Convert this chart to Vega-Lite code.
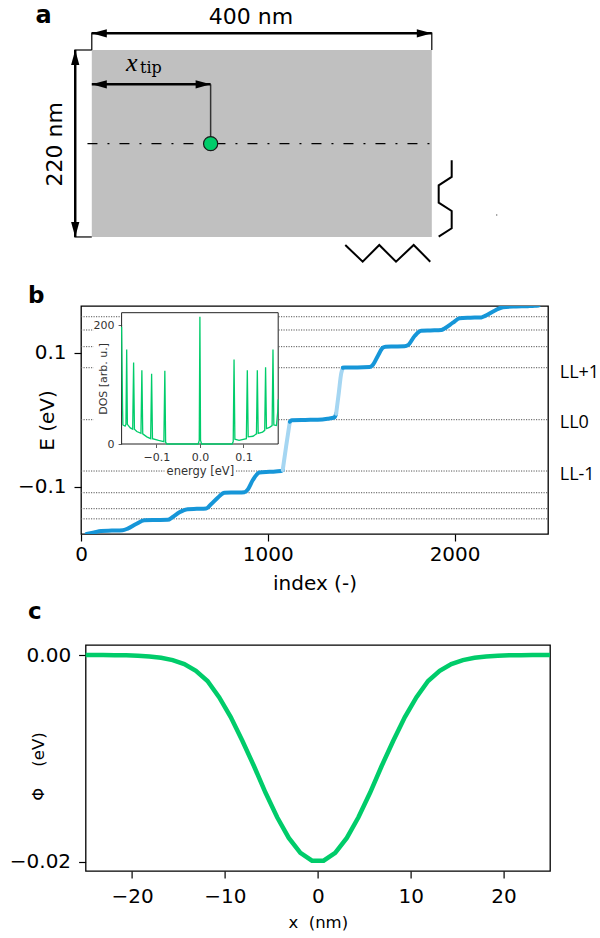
{
  "$schema": "https://vega.github.io/schema/vega-lite/v6.json",
  "padding": {"left": 8, "top": 3, "right": 0, "bottom": 0},
  "background": "white",
  "bounds": "flush",
  "spacing": 111,
  "config": {
    "font": "DejaVu Sans",
    "view": {"stroke": null},
    "axis": {"labelFont": "DejaVu Sans", "titleFont": "DejaVu Sans", "labelColor": "#000", "titleColor": "#000", "tickColor": "#000", "tickWidth": 1.2, "domain": false, "grid": false, "titleFontWeight": "normal", "labelFlush": false, "labelOverlap": false},
    "title": {"font": "DejaVu Sans", "fontWeight": "bold", "fontSize": 23, "anchor": "start", "frame": "group", "color": "#000"}
  },
  "vconcat": [
    {
      "width": 467,
      "height": 144.3,
      "encoding": {
        "x": {"field": "x", "type": "quantitative", "scale": {"domain": [-12.7, 536.7], "nice": false, "zero": false}, "axis": null},
        "y": {"field": "y", "type": "quantitative", "scale": {"domain": [50.2, 220], "nice": false, "zero": false}, "axis": null}
      },
      "layer": [
        {
          "data": {"values": [{"x": 0, "y": 0, "x2": 400, "y2": 220}]},
          "mark": {"type": "rect", "color": "#c0c0c0"},
          "encoding": {"x2": {"field": "x2"}, "y2": {"field": "y2"}}
        },
        {
          "data": {"values": [
            {"g": "e1", "o": 0, "x": 0, "y": 220}, {"g": "e1", "o": 1, "x": 0, "y": 240.5},
            {"g": "e2", "o": 0, "x": 400, "y": 220}, {"g": "e2", "o": 1, "x": 400, "y": 240.5},
            {"g": "e3", "o": 0, "x": -20.5, "y": 220}, {"g": "e3", "o": 1, "x": 0, "y": 220},
            {"g": "e4", "o": 0, "x": -20.5, "y": 0}, {"g": "e4", "o": 1, "x": 0, "y": 0}
          ]},
          "mark": {"type": "line", "color": "#000", "strokeWidth": 1.2},
          "encoding": {"detail": {"field": "g"}, "order": {"field": "o"}}
        },
        {
          "data": {"values": [{"o": 0, "x": 139.8, "y": 179.6}, {"o": 1, "x": 139.8, "y": 109.8}]},
          "mark": {"type": "line", "color": "#333", "strokeWidth": 1.5},
          "encoding": {"order": {"field": "o"}}
        },
        {
          "data": {"values": [{"o": 0, "x": -5.1, "y": 109.8}, {"o": 1, "x": 408, "y": 109.8}]},
          "mark": {"type": "line", "color": "#000", "strokeWidth": 1.2, "strokeDash": [10, 10, 2, 10]},
          "encoding": {"order": {"field": "o"}}
        },
        {
          "data": {"values": [
            {"g": "top", "o": 0, "x": 0, "y": 239.6}, {"g": "top", "o": 1, "x": 400, "y": 239.6},
            {"g": "left", "o": 0, "x": -19.5, "y": 0}, {"g": "left", "o": 1, "x": -19.5, "y": 220},
            {"g": "tip", "o": 0, "x": 0, "y": 179.6}, {"g": "tip", "o": 1, "x": 139.8, "y": 179.6}
          ]},
          "mark": {"type": "line", "color": "#000", "strokeWidth": 2.5},
          "encoding": {"detail": {"field": "g"}, "order": {"field": "o"}}
        },
        {
          "data": {"values": [
            {"g": "v", "o": 0, "x": 423.4, "y": 90.2}, {"g": "v", "o": 1, "x": 423.4, "y": 70.6},
            {"g": "v", "o": 2, "x": 408.1, "y": 60.8}, {"g": "v", "o": 3, "x": 408.1, "y": 40.4},
            {"g": "v", "o": 4, "x": 423.4, "y": 30.6}, {"g": "v", "o": 5, "x": 423.4, "y": 10.2},
            {"g": "v", "o": 6, "x": 408.1, "y": 0.35},
            {"g": "h", "o": 0, "x": 298.2, "y": -9.4}, {"g": "h", "o": 1, "x": 318.7, "y": -29.1},
            {"g": "h", "o": 2, "x": 338.2, "y": -9.4}, {"g": "h", "o": 3, "x": 357.9, "y": -29.1},
            {"g": "h", "o": 4, "x": 378.7, "y": -9.4}, {"g": "h", "o": 5, "x": 398.2, "y": -29.1}
          ]},
          "mark": {"type": "line", "color": "#000", "strokeWidth": 2, "strokeJoin": "miter"},
          "encoding": {"detail": {"field": "g"}, "order": {"field": "o"}}
        },
        {
          "data": {"values": [
            {"dir": "left", "x": 0, "y": 239.6}, {"dir": "right", "x": 400, "y": 239.6},
            {"dir": "up", "x": -19.5, "y": 220}, {"dir": "down", "x": -19.5, "y": 0},
            {"dir": "left", "x": 0, "y": 179.6}, {"dir": "right", "x": 139.8, "y": 179.6}
          ]},
          "mark": {"type": "point", "filled": true, "color": "#000", "opacity": 1, "size": 225, "strokeWidth": 0},
          "encoding": {"shape": {"field": "dir", "type": "nominal", "scale": {"domain": ["left", "right", "up", "down"], "range": ["M0,0L2,-0.55L2,0.55Z", "M0,0L-2,-0.55L-2,0.55Z", "M0,0L-0.55,2L0.55,2Z", "M0,0L-0.55,-2L0.55,-2Z"]}, "legend": null}}
        },
        {
          "data": {"values": [{"x": 139.8, "y": 109.8}]},
          "mark": {"type": "point", "shape": "circle", "filled": true, "fill": "#00cc6a", "stroke": "#1a1a1a", "strokeWidth": 1.2, "size": 200, "opacity": 1}
        },
        {
          "data": {"values": [{"x": 476.4, "y": 25.9}]},
          "mark": {"type": "point", "shape": "circle", "filled": true, "color": "#666", "size": 2, "opacity": 1}
        },
        {
          "data": {"values": [{"x": 187.3, "y": 250.9, "t": "400 nm"}]},
          "mark": {"type": "text", "align": "center", "baseline": "alphabetic", "fontSize": 22, "font": "DejaVu Sans", "color": "#000"},
          "encoding": {"text": {"field": "t"}}
        },
        {
          "data": {"values": [{"x": -34.5, "y": 109.1, "t": "220 nm"}]},
          "mark": {"type": "text", "align": "center", "baseline": "alphabetic", "angle": 270, "fontSize": 22, "font": "DejaVu Sans", "color": "#000"},
          "encoding": {"text": {"field": "t"}}
        },
        {
          "data": {"values": [{"x": -66.1, "y": 252.1, "t": "a"}]},
          "mark": {"type": "text", "align": "left", "baseline": "alphabetic", "fontSize": 24, "fontWeight": "bold", "font": "DejaVu Sans", "color": "#000"},
          "encoding": {"text": {"field": "t"}}
        },
        {
          "data": {"values": [{"x": 40.2, "y": 195.3, "t": "x"}]},
          "mark": {"type": "text", "align": "left", "baseline": "alphabetic", "fontSize": 26, "fontStyle": "italic", "font": "Liberation Serif", "color": "#000"},
          "encoding": {"text": {"field": "t"}}
        },
        {
          "data": {"values": [{"x": 56.7, "y": 193.5, "t": "tip"}]},
          "mark": {"type": "text", "align": "left", "baseline": "alphabetic", "fontSize": 16, "font": "DejaVu Serif", "color": "#000"},
          "encoding": {"text": {"field": "t"}}
        }
      ]
    },
    {
      "width": 467,
      "height": 228,
      "title": {"text": "b", "dx": -53, "dy": 21.5, "offset": 2, "baseline": "alphabetic"},
      "view": {"stroke": "#000", "strokeWidth": 1.3},
      "resolve": {"scale": {"x": "independent", "y": "independent"}},
      "layer": [
        {
          "encoding": {
            "x": {"field": "idx", "type": "quantitative", "scale": {"domain": [0, 2500], "nice": false, "zero": false}, "axis": {"values": [0, 1000, 2000], "format": "d", "labelFontSize": 20, "titleFontSize": 20, "tickSize": 7, "labelPadding": 3, "titlePadding": 9, "title": "index (-)"}},
            "y": {"field": "E", "type": "quantitative", "scale": {"domain": [-0.1706, 0.1697], "nice": false, "zero": false}, "axis": {"values": [-0.1, 0.1], "format": ".1f", "labelFontSize": 20, "titleFontSize": 20, "tickSize": 7, "labelPadding": 8, "title": "E (eV)", "titleX": -27.7, "titleBaseline": "alphabetic"}}
          },
          "layer": [
            {
              "data": {"values": [
                {"lv": 1, "idx": 0, "E": 0.1537}, {"lv": 1, "idx": 2500, "E": 0.1537},
                {"lv": 2, "idx": 0, "E": 0.1339}, {"lv": 2, "idx": 2500, "E": 0.1339},
                {"lv": 3, "idx": 0, "E": 0.109}, {"lv": 3, "idx": 2500, "E": 0.109},
                {"lv": 4, "idx": 0, "E": 0.0776}, {"lv": 4, "idx": 2500, "E": 0.0776},
                {"lv": 5, "idx": 0, "E": 0}, {"lv": 5, "idx": 2500, "E": 0},
                {"lv": 6, "idx": 0, "E": -0.0766}, {"lv": 6, "idx": 2500, "E": -0.0766},
                {"lv": 7, "idx": 0, "E": -0.109}, {"lv": 7, "idx": 2500, "E": -0.109},
                {"lv": 8, "idx": 0, "E": -0.1328}, {"lv": 8, "idx": 2500, "E": -0.1328},
                {"lv": 9, "idx": 0, "E": -0.148}, {"lv": 9, "idx": 2500, "E": -0.148}
              ]},
              "mark": {"type": "line", "color": "#555", "strokeWidth": 1, "strokeDash": [1.2, 1.3]},
              "encoding": {"detail": {"field": "lv"}}
            },
            {
              "data": {"values": [
                {"seg": 1, "kind": "dark", "idx": 30, "E": -0.1706}, {"seg": 1, "kind": "dark", "idx": 70, "E": -0.1682},
                {"seg": 1, "kind": "dark", "idx": 107, "E": -0.166}, {"seg": 1, "kind": "dark", "idx": 165, "E": -0.1655},
                {"seg": 1, "kind": "dark", "idx": 223, "E": -0.165}, {"seg": 1, "kind": "dark", "idx": 250, "E": -0.1625},
                {"seg": 1, "kind": "dark", "idx": 295, "E": -0.1557}, {"seg": 1, "kind": "dark", "idx": 339, "E": -0.1502},
                {"seg": 1, "kind": "dark", "idx": 400, "E": -0.1498}, {"seg": 1, "kind": "dark", "idx": 464, "E": -0.1495},
                {"seg": 1, "kind": "dark", "idx": 491, "E": -0.1452}, {"seg": 1, "kind": "dark", "idx": 527, "E": -0.1383},
                {"seg": 1, "kind": "dark", "idx": 571, "E": -0.1335}, {"seg": 1, "kind": "dark", "idx": 620, "E": -0.133},
                {"seg": 1, "kind": "dark", "idx": 670, "E": -0.1325}, {"seg": 1, "kind": "dark", "idx": 696, "E": -0.1262},
                {"seg": 1, "kind": "dark", "idx": 732, "E": -0.1164}, {"seg": 1, "kind": "dark", "idx": 768, "E": -0.1092},
                {"seg": 1, "kind": "dark", "idx": 820, "E": -0.1087}, {"seg": 1, "kind": "dark", "idx": 875, "E": -0.1082},
                {"seg": 1, "kind": "dark", "idx": 893, "E": -0.104}, {"seg": 1, "kind": "dark", "idx": 920, "E": -0.09},
                {"seg": 1, "kind": "dark", "idx": 955, "E": -0.0788}, {"seg": 1, "kind": "dark", "idx": 1010, "E": -0.0778},
                {"seg": 1, "kind": "dark", "idx": 1071, "E": -0.0766}, {"seg": 1, "kind": "dark", "idx": 1080, "E": -0.075},
                {"seg": 2, "kind": "light", "idx": 1080, "E": -0.075}, {"seg": 2, "kind": "light", "idx": 1098, "E": -0.04},
                {"seg": 2, "kind": "light", "idx": 1118, "E": -0.003},
                {"seg": 3, "kind": "dark", "idx": 1118, "E": -0.003}, {"seg": 3, "kind": "dark", "idx": 1128, "E": -0.0008},
                {"seg": 3, "kind": "dark", "idx": 1200, "E": -0.0003}, {"seg": 3, "kind": "dark", "idx": 1268, "E": 0},
                {"seg": 3, "kind": "dark", "idx": 1320, "E": 0.0015}, {"seg": 3, "kind": "dark", "idx": 1357, "E": 0.0035},
                {"seg": 3, "kind": "dark", "idx": 1366, "E": 0.009},
                {"seg": 4, "kind": "light", "idx": 1366, "E": 0.009}, {"seg": 4, "kind": "light", "idx": 1380, "E": 0.04},
                {"seg": 4, "kind": "light", "idx": 1393, "E": 0.069}, {"seg": 4, "kind": "light", "idx": 1402, "E": 0.0776},
                {"seg": 5, "kind": "dark", "idx": 1402, "E": 0.0776}, {"seg": 5, "kind": "dark", "idx": 1411, "E": 0.078},
                {"seg": 5, "kind": "dark", "idx": 1480, "E": 0.078}, {"seg": 5, "kind": "dark", "idx": 1545, "E": 0.0785},
                {"seg": 5, "kind": "dark", "idx": 1560, "E": 0.081}, {"seg": 5, "kind": "dark", "idx": 1589, "E": 0.0951},
                {"seg": 5, "kind": "dark", "idx": 1616, "E": 0.1075}, {"seg": 5, "kind": "dark", "idx": 1630, "E": 0.109},
                {"seg": 5, "kind": "dark", "idx": 1680, "E": 0.1092}, {"seg": 5, "kind": "dark", "idx": 1732, "E": 0.1095},
                {"seg": 5, "kind": "dark", "idx": 1750, "E": 0.1112}, {"seg": 5, "kind": "dark", "idx": 1786, "E": 0.1249},
                {"seg": 5, "kind": "dark", "idx": 1821, "E": 0.1328}, {"seg": 5, "kind": "dark", "idx": 1870, "E": 0.1333},
                {"seg": 5, "kind": "dark", "idx": 1929, "E": 0.1338}, {"seg": 5, "kind": "dark", "idx": 1946, "E": 0.1362},
                {"seg": 5, "kind": "dark", "idx": 1991, "E": 0.1448}, {"seg": 5, "kind": "dark", "idx": 2027, "E": 0.1515},
                {"seg": 5, "kind": "dark", "idx": 2085, "E": 0.1522}, {"seg": 5, "kind": "dark", "idx": 2143, "E": 0.1527},
                {"seg": 5, "kind": "dark", "idx": 2161, "E": 0.1547}, {"seg": 5, "kind": "dark", "idx": 2214, "E": 0.1627},
                {"seg": 5, "kind": "dark", "idx": 2259, "E": 0.168}, {"seg": 5, "kind": "dark", "idx": 2330, "E": 0.169},
                {"seg": 5, "kind": "dark", "idx": 2393, "E": 0.1695}, {"seg": 5, "kind": "dark", "idx": 2429, "E": 0.17},
                {"seg": 5, "kind": "dark", "idx": 2450, "E": 0.1705}
              ]},
              "mark": {"type": "line", "strokeWidth": 4, "interpolate": "monotone", "clip": true, "strokeCap": "round"},
              "encoding": {
                "detail": {"field": "seg"},
                "color": {"field": "kind", "type": "nominal", "scale": {"domain": ["dark", "light"], "range": ["#1696d8", "#a5d6f2"]}, "legend": null}
              }
            },
            {
              "data": {"values": [
                {"idx": 2563, "E": 0.0616, "t": "LL+1"},
                {"idx": 2563, "E": -0.013, "t": "LL0"},
                {"idx": 2563, "E": -0.09, "t": "LL-1"}
              ]},
              "mark": {"type": "text", "align": "left", "baseline": "alphabetic", "fontSize": 18, "font": "Open Sans", "color": "#000"},
              "encoding": {"text": {"field": "t"}}
            }
          ]
        },
        {
          "encoding": {
            "x": {"field": "e", "type": "quantitative", "scale": {"domain": [-0.18, 0.18], "range": [40.6, 197.2], "nice": false, "zero": false}, "axis": {"orient": "bottom", "offset": -90, "values": [-0.1, 0, 0.1], "format": ".1f", "labelFontSize": 11, "titleFontSize": 11.5, "tickSize": 3.5, "labelPadding": 4, "titlePadding": 3, "title": "energy [eV]", "labelColor": "#333", "titleColor": "#333", "tickColor": "#333", "tickWidth": 0.8, "zindex": 1}},
            "y": {"field": "dos", "type": "quantitative", "scale": {"domain": [0, 220.7], "range": [138, 6.7], "nice": false, "zero": false}, "axis": {"orient": "left", "offset": -40.6, "values": [0, 200], "format": "d", "labelFontSize": 11, "titleFontSize": 11, "tickSize": 3.5, "labelPadding": 4, "title": "DOS [arb. u.]", "titleX": -15.2, "titleBaseline": "alphabetic", "labelColor": "#333", "titleColor": "#333", "tickColor": "#333", "tickWidth": 0.8, "zindex": 1}}
          },
          "layer": [
            {
              "data": {"values": [
                {"e": -0.245, "e2": 0.181, "dos": -8, "dos2": 209},
                {"e": -0.081, "e2": 0.0815, "dos": -8, "dos2": -57}
              ]},
              "mark": {"type": "rect", "fill": "#fff", "strokeWidth": 0},
              "encoding": {"x2": {"field": "e2"}, "y2": {"field": "dos2"}}
            },
            {
              "data": {"values": [{"e": -0.18, "e2": 0.18, "dos": 0, "dos2": 220.7}]},
              "mark": {"type": "rect", "fill": "#fff", "stroke": "#222", "strokeWidth": 1},
              "encoding": {"x2": {"field": "e2"}, "y2": {"field": "dos2"}}
            },
            {
              "data": {"values": [
                {"e": -0.18, "dos": 197}, {"e": -0.1778, "dos": 60}, {"e": -0.177, "dos": 32}, {"e": -0.172, "dos": 30},
                {"e": -0.17, "dos": 33}, {"e": -0.1683, "dos": 159}, {"e": -0.1667, "dos": 33}, {"e": -0.16, "dos": 27},
                {"e": -0.1545, "dos": 25}, {"e": -0.1524, "dos": 137}, {"e": -0.1505, "dos": 25}, {"e": -0.145, "dos": 21},
                {"e": -0.1355, "dos": 18}, {"e": -0.1334, "dos": 124}, {"e": -0.1314, "dos": 17}, {"e": -0.122, "dos": 12},
                {"e": -0.1132, "dos": 9}, {"e": -0.111, "dos": 118}, {"e": -0.109, "dos": 9}, {"e": -0.095, "dos": 6},
                {"e": -0.0828, "dos": 4}, {"e": -0.0806, "dos": 123}, {"e": -0.0788, "dos": 3}, {"e": -0.076, "dos": 0},
                {"e": -0.004, "dos": 0}, {"e": -0.0015, "dos": 6}, {"e": 0, "dos": 214}, {"e": 0.0015, "dos": 6},
                {"e": 0.004, "dos": 0}, {"e": 0.074, "dos": 0}, {"e": 0.0766, "dos": 4}, {"e": 0.0785, "dos": 142},
                {"e": 0.0804, "dos": 8}, {"e": 0.09, "dos": 6}, {"e": 0.1068, "dos": 9}, {"e": 0.109, "dos": 124},
                {"e": 0.111, "dos": 12}, {"e": 0.122, "dos": 13}, {"e": 0.13, "dos": 17}, {"e": 0.132, "dos": 124},
                {"e": 0.134, "dos": 18}, {"e": 0.144, "dos": 20}, {"e": 0.149, "dos": 23}, {"e": 0.151, "dos": 129},
                {"e": 0.153, "dos": 26}, {"e": 0.16, "dos": 28}, {"e": 0.166, "dos": 31}, {"e": 0.168, "dos": 159},
                {"e": 0.17, "dos": 32}, {"e": 0.176, "dos": 31}, {"e": 0.179, "dos": 55}, {"e": 0.18, "dos": 75}
              ]},
              "mark": {"type": "line", "color": "#00cc6a", "strokeWidth": 1.3}
            }
          ]
        }
      ]
    },
    {
      "hconcat": [
        {
          "width": 1,
          "height": 1,
          "data": {"values": [{"v": 0}]},
          "mark": {"type": "point", "opacity": 0}
        },
        {
          "width": 464.4,
          "height": 226,
          "title": {"text": "c", "dx": -57.6, "dy": 22, "offset": 25, "baseline": "alphabetic"},
          "view": {"stroke": "#000", "strokeWidth": 1.3},
          "data": {"values": [
            {"xn": -25, "phi": 0}, {"xn": -24.375, "phi": 0}, {"xn": -23.125, "phi": 0}, {"xn": -21.875, "phi": -0.00001},
            {"xn": -20.625, "phi": -0.00003}, {"xn": -19.375, "phi": -0.00007}, {"xn": -18.125, "phi": -0.00014},
            {"xn": -16.875, "phi": -0.00027}, {"xn": -15.625, "phi": -0.00049}, {"xn": -14.375, "phi": -0.00087},
            {"xn": -13.125, "phi": -0.00153}, {"xn": -11.875, "phi": -0.00251}, {"xn": -10.625, "phi": -0.00408},
            {"xn": -9.375, "phi": -0.006}, {"xn": -8.125, "phi": -0.0083}, {"xn": -6.875, "phi": -0.01074},
            {"xn": -5.625, "phi": -0.01333}, {"xn": -4.375, "phi": -0.0157}, {"xn": -3.125, "phi": -0.0177},
            {"xn": -1.875, "phi": -0.01914}, {"xn": -0.625, "phi": -0.0199}, {"xn": 0.625, "phi": -0.0199},
            {"xn": 1.875, "phi": -0.01914}, {"xn": 3.125, "phi": -0.0177}, {"xn": 4.375, "phi": -0.0157},
            {"xn": 5.625, "phi": -0.01333}, {"xn": 6.875, "phi": -0.01074}, {"xn": 8.125, "phi": -0.0083},
            {"xn": 9.375, "phi": -0.006}, {"xn": 10.625, "phi": -0.00408}, {"xn": 11.875, "phi": -0.00251},
            {"xn": 13.125, "phi": -0.00153}, {"xn": 14.375, "phi": -0.00087}, {"xn": 15.625, "phi": -0.00049},
            {"xn": 16.875, "phi": -0.00027}, {"xn": 18.125, "phi": -0.00014}, {"xn": 19.375, "phi": -0.00007},
            {"xn": 20.625, "phi": -0.00003}, {"xn": 21.875, "phi": -0.00001}, {"xn": 23.125, "phi": 0},
            {"xn": 24.375, "phi": 0}, {"xn": 25, "phi": 0}
          ]},
          "mark": {"type": "line", "color": "#00cc6a", "strokeWidth": 4.5},
          "encoding": {
            "x": {"field": "xn", "type": "quantitative", "scale": {"domain": [-25, 25], "nice": false, "zero": false}, "axis": {"values": [-20, -10, 0, 10, 20], "format": "d", "labelFontSize": 20, "titleFontSize": 16.5, "tickSize": 7, "labelPadding": 8, "titlePadding": 8, "title": "x\u00a0\u00a0(nm)"}},
            "y": {"field": "phi", "type": "quantitative", "scale": {"domain": [-0.0209, 0.00097], "nice": false, "zero": false}, "axis": {"values": [-0.02, 0], "format": ".2f", "labelFontSize": 20, "titleFontSize": 16.5, "tickSize": 7, "labelPadding": 8, "title": "Φ\u00a0\u00a0\u00a0\u00a0(eV)", "titleX": -42.3, "titleY": 121, "titleBaseline": "alphabetic", "titleAlign": "center"}}
          }
        }
      ],
      "spacing": 3.6,
      "bounds": "flush"
    }
  ]
}
